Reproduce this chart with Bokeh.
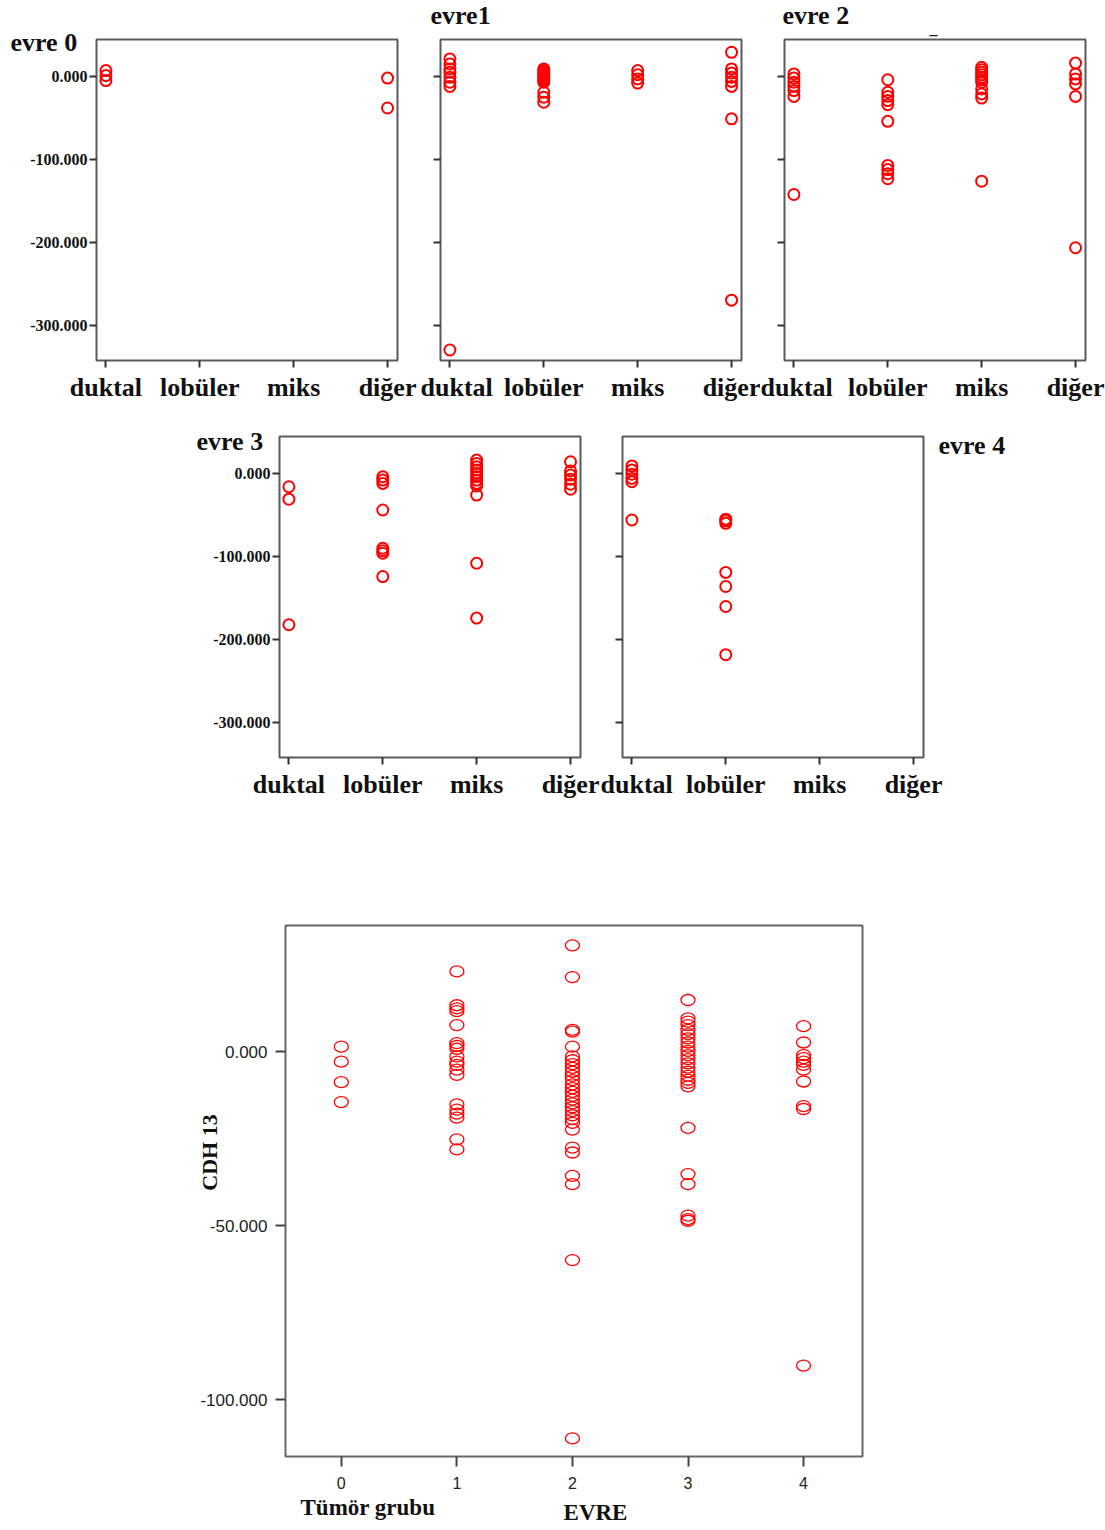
from bokeh.plotting import figure
from bokeh.layouts import column, row
from bokeh.models import Range1d, FixedTicker, PrintfTickFormatter
from bokeh.core.properties import value
from bokeh.embed import file_html
from bokeh.resources import INLINE
import math

# ---------------- data ----------------
categories = ["duktal", "lobüler", "miks", "diğer"]
stage_titles = ["evre 0", "evre1", "evre 2", "evre 3", "evre 4"]

# top panels: CDH13 by tumour group, one panel per stage
evre0_duktal = [7, 1, -5]
evre0_lobuler = []
evre0_miks = []
evre0_diger = [-2, -38]

evre1_duktal = [21, 15, 9, 5, -1, -7, -12, -329]
evre1_lobuler = [9, 7, 5, 3, 1, -1, -3, -5, -7, -19, -25, -31]
evre1_miks = [7, 2, -3, -8]
evre1_diger = [29, 9, 4, -1, -6, -12, -51, -269]

evre2_duktal = [3, -2, -7, -12, -17, -24, -142]
evre2_lobuler = [-4, -19, -24, -29, -34, -54, -107, -112, -117, -123]
evre2_miks = [11, 8, 5, 2, -1, -4, -7, -15, -21, -26, -126]
evre2_diger = [16, 3, -3, -9, -24, -206]

evre3_duktal = [-16, -31, -182]
evre3_lobuler = [-4, -8, -12, -44, -90, -93, -96, -124]
evre3_miks = [16, 12, 8, 4, 0, -4, -8, -12, -15, -26, -108, -174]
evre3_diger = [14, 3, -2, -7, -13, -19]

evre4_duktal = [9, 4, -1, -6, -10, -56]
evre4_lobuler = [-55, -57, -60, -119, -136, -160, -218]
evre4_miks = []
evre4_diger = []

top_y_ticks = [-300, -200, -100, 0]

# bottom chart: CDH 13 by EVRE
evre_ticks = [0, 1, 2, 3, 4]
cdh13_evre0 = [1.4, -2.9, -8.8, -14.5]
cdh13_evre1 = [23.0, 13.3, 12.4, 11.6, 7.6, 2.4, 1.6, 0.8, -1.4, -2.9, -3.8, -5.2,
               -6.7, -15.2, -16.7, -17.8, -19.0, -25.2, -28.1]
cdh13_evre2 = [30.5, 21.4, 6.2, 5.7, 1.4, -1.4, -2.5, -3.6, -4.7, -5.8, -7.0, -8.2,
               -9.4, -10.5, -11.6, -12.7, -13.8, -14.9, -16.0, -17.1, -18.3, -19.4,
               -20.5, -22.4, -27.6, -29.0, -35.7, -38.1, -59.9, -111.1]
cdh13_evre3 = [14.8, 9.5, 8.6, 7.6, 6.2, 5.0, 3.8, 2.6, 1.4, 0.2, -1.0, -2.2, -3.4,
               -4.6, -5.8, -7.0, -8.1, -9.0, -10.0, -21.9, -35.2, -38.1, -47.1,
               -48.1, -48.6]
cdh13_evre4 = [7.3, 2.6, -1.0, -1.9, -2.9, -3.8, -5.2, -8.6, -15.7, -16.5, -90.2]
bottom_y_ticks = [-100, -50, 0]

# ---------------- styling ----------------
SERIF = "Liberation Serif"
SANS = "Liberation Sans"
TOP_X = (-0.1, 3.106)
TOP_Y = (-341.6, 44.4)
BOT_X = (-0.483, 4.51)
BOT_Y = (-116.3, 36.2)


def add_page_text(p, geom, px, py, text, font=SERIF, size="26px", align="left",
                  baseline="alphabetic", angle=0.0, color="#111111"):
    """Text placed at a canvas pixel position, converted through the figure's scales,
    drawn on the overlay level so it is not clipped to the plot frame."""
    fl, ft, fw, fh, (x0, x1), (y0, y1) = geom
    x = x0 + (px - fl) / fw * (x1 - x0)
    y = y1 - (py - ft) / fh * (y1 - y0)
    p.text(x=[x], y=[y], text=[text], text_font=value(font), text_font_style="bold",
           text_font_size=size, text_align=align, text_baseline=baseline,
           angle=angle, text_color=color, level="overlay")


def top_panel(groups, width, height, bl, br, bt, bb, show_y):
    p = figure(width=width, height=height, output_backend="svg", toolbar_location=None,
               x_range=Range1d(*TOP_X), y_range=Range1d(*TOP_Y),
               min_border_left=bl, min_border_right=br,
               min_border_top=bt, min_border_bottom=bb,
               background_fill_color="white", border_fill_color="white")
    p.grid.visible = False
    p.outline_line_color = "#5a5a5a"
    p.outline_line_width = 2
    xs, ys = [], []
    for i, vals in enumerate(groups):
        xs += [i] * len(vals)
        ys += list(vals)
    p.scatter(x=xs, y=ys, marker="circle", size=11, fill_color=None,
              line_color="#ff0000", line_width=2)
    for ax in (p.xaxis[0], p.yaxis[0]):
        ax.axis_line_color = None
        ax.major_tick_in = 0
        ax.major_tick_out = 7
        ax.major_tick_line_width = 2
        ax.major_tick_line_color = "#333333"
        ax.minor_tick_line_color = None
    p.xaxis.ticker = FixedTicker(ticks=list(range(len(categories))))
    p.xaxis.major_label_overrides = {i: c for i, c in enumerate(categories)}
    p.xaxis.major_label_text_font = SERIF
    p.xaxis.major_label_text_font_style = "bold"
    p.xaxis.major_label_text_font_size = "26px"
    p.xaxis.major_label_text_color = "#111111"
    p.xaxis.major_label_standoff = 5
    p.yaxis.ticker = FixedTicker(ticks=top_y_ticks)
    if show_y:
        p.yaxis.formatter = PrintfTickFormatter(format="%.3f")
        p.yaxis.major_label_text_font = SERIF
        p.yaxis.major_label_text_font_style = "bold"
        p.yaxis.major_label_text_font_size = "16px"
        p.yaxis.major_label_text_color = "#111111"
        p.yaxis.major_label_standoff = 2
    else:
        p.yaxis.major_label_overrides = {t: "" for t in top_y_ticks}
    return p


# Row 1 -------------------------------------------------------------
pA = top_panel([evre0_duktal, evre0_lobuler, evre0_miks, evre0_diger], 420, 410, 96, 23, 39, 50, True)
gA = (96, 39, 301, 321, TOP_X, TOP_Y)
add_page_text(pA, gA, 10, 42, stage_titles[0])

pB = top_panel([evre1_duktal, evre1_lobuler, evre1_miks, evre1_diger], 340, 410, 20, 19, 39, 50, False)
gB = (20, 39, 301, 321, TOP_X, TOP_Y)
add_page_text(pB, gB, 430 - 420, 15, stage_titles[1])

pC = top_panel([evre2_duktal, evre2_lobuler, evre2_miks, evre2_diger], 345, 410, 24, 20, 39, 50, False)
gC = (24, 39, 301, 321, TOP_X, TOP_Y)
add_page_text(pC, gC, 782 - 760, 15, stage_titles[2])
add_page_text(pC, gC, 933 - 760, 28, "_", size="16px", align="center", color="#222222")

# Row 2 -------------------------------------------------------------
pD = top_panel([evre3_duktal, evre3_lobuler, evre3_miks, evre3_diger], 600, 410, 279, 20, 26, 63, True)
gD = (279, 26, 301, 321, TOP_X, TOP_Y)
add_page_text(pD, gD, 196, 441 - 410, stage_titles[3])

pE = top_panel([evre4_duktal, evre4_lobuler, evre4_miks, evre4_diger], 505, 410, 22, 182, 26, 63, False)
gE = (22, 26, 301, 321, TOP_X, TOP_Y)
add_page_text(pE, gE, 938 - 600, 445 - 410, stage_titles[4])

# Row 3: overall chart ----------------------------------------------
pF = figure(width=1105, height=710, output_backend="svg", toolbar_location=None,
            x_range=Range1d(*BOT_X), y_range=Range1d(*BOT_Y),
            min_border_left=285, min_border_right=243,
            min_border_top=105, min_border_bottom=74,
            background_fill_color="white", border_fill_color="white")
pF.grid.visible = False
pF.outline_line_color = "#666666"
pF.outline_line_width = 2
bx, by = [], []
for e, vals in zip(evre_ticks, [cdh13_evre0, cdh13_evre1, cdh13_evre2, cdh13_evre3, cdh13_evre4]):
    bx += [e] * len(vals)
    by += vals
pF.ellipse(x=bx, y=by, width=14, height=11, width_units="screen", height_units="screen",
           fill_color=None, line_color="#ff0000", line_width=1.3)
for ax in (pF.xaxis[0], pF.yaxis[0]):
    ax.axis_line_color = None
    ax.major_tick_in = 0
    ax.major_tick_out = 10
    ax.major_tick_line_width = 2
    ax.major_tick_line_color = "#444444"
    ax.minor_tick_line_color = None
    ax.major_label_text_font = SANS
    ax.major_label_text_color = "#222222"
pF.xaxis.ticker = FixedTicker(ticks=evre_ticks)
pF.xaxis.major_label_text_font_size = "16px"
pF.xaxis.major_label_standoff = 10
pF.yaxis.ticker = FixedTicker(ticks=bottom_y_ticks)
pF.yaxis.formatter = PrintfTickFormatter(format="%.3f")
pF.yaxis.major_label_text_font_size = "17px"
pF.yaxis.major_label_standoff = 8

gF = (285, 105, 577, 531, BOT_X, BOT_Y)
add_page_text(pF, gF, 300, 1507 - 820, "Tümör grubu", size="23px")
add_page_text(pF, gF, 595, 1512 - 820, "EVRE", size="23px", align="center")
add_page_text(pF, gF, 209, 1152 - 820, "CDH 13", size="22px", align="center",
              baseline="middle", angle=math.pi / 2)

layout = column(row(pA, pB, pC), row(pD, pE), pF)
open("out.html", "w").write(file_html(layout, INLINE))
